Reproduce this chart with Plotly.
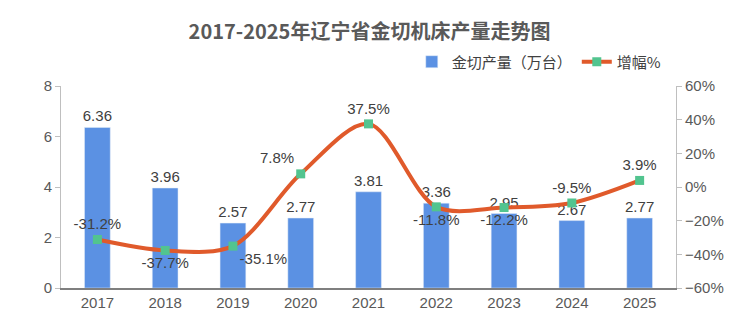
import plotly.graph_objects as go

years = ["2017", "2018", "2019", "2020", "2021", "2022", "2023", "2024", "2025"]
output = [6.36, 3.96, 2.57, 2.77, 3.81, 3.36, 2.95, 2.67, 2.77]
growth = [-31.2, -37.7, -35.1, 7.8, 37.5, -11.8, -12.2, -9.5, 3.9]
growth_pos = ["top center", "bottom center", "bottom right", "top left", "top center",
              "bottom center", "bottom center", "top center", "top center"]

fig = go.Figure()
fig.add_trace(go.Bar(
    x=years, y=output, name="金切产量（万台）",
    marker_color="#5B91E3",
    text=[f"{v:.2f}" for v in output], textposition="outside",
    constraintext="none",
    textfont=dict(size=15, color="#404040", family="Liberation Sans"),
    cliponaxis=False,
))
fig.add_trace(go.Scatter(
    x=years, y=growth, name="增幅%", yaxis="y2", mode="lines+markers+text",
    line=dict(color="#E05A2B", width=4, shape="spline", smoothing=0.9),
    marker=dict(symbol="square", size=9, color="#52C48F"),
    text=[f"{v:.1f}%" for v in growth], textposition=growth_pos,
    textfont=dict(size=15, color="#404040", family="Liberation Sans"),
    cliponaxis=False,
))

fig.update_layout(
    width=739, height=334,
    margin=dict(l=61, r=63, t=86, b=46),
    paper_bgcolor="white", plot_bgcolor="white",
    bargap=0.62,
    title=dict(text="<b>2017-2025年辽宁省金切机床产量走势图</b>",
               x=0.5, xanchor="center", xref="container",
               y=0.905, yanchor="middle", yref="container",
               font=dict(size=20, color="#595959", family="Noto Sans CJK SC")),
    legend=dict(orientation="h", x=0.985, xanchor="right", y=1.119, yanchor="middle",
                font=dict(size=15, color="#404040", family="Noto Sans CJK SC"),
                itemwidth=30, bgcolor="rgba(0,0,0,0)"),
    font=dict(family="Liberation Sans", color="#595959"),
    xaxis=dict(showline=True, linecolor="#7F7F7F", linewidth=1.5, ticks="",
               tickfont=dict(size=15, color="#595959"), showgrid=False),
    yaxis=dict(range=[0, 8], dtick=2, showline=True, linecolor="#BFBFBF",
               ticks="outside", ticklen=5, tickcolor="#BFBFBF", showgrid=False,
               zeroline=False, tickfont=dict(size=15, color="#595959")),
    yaxis2=dict(range=[-60, 60], dtick=20, overlaying="y", side="right",
                showline=True, linecolor="#BFBFBF", ticks="outside", ticklen=5,
                tickcolor="#BFBFBF", showgrid=False, zeroline=False,
                ticksuffix="%", tickfont=dict(size=15, color="#595959")),
)

fig.write_html("out.html")
